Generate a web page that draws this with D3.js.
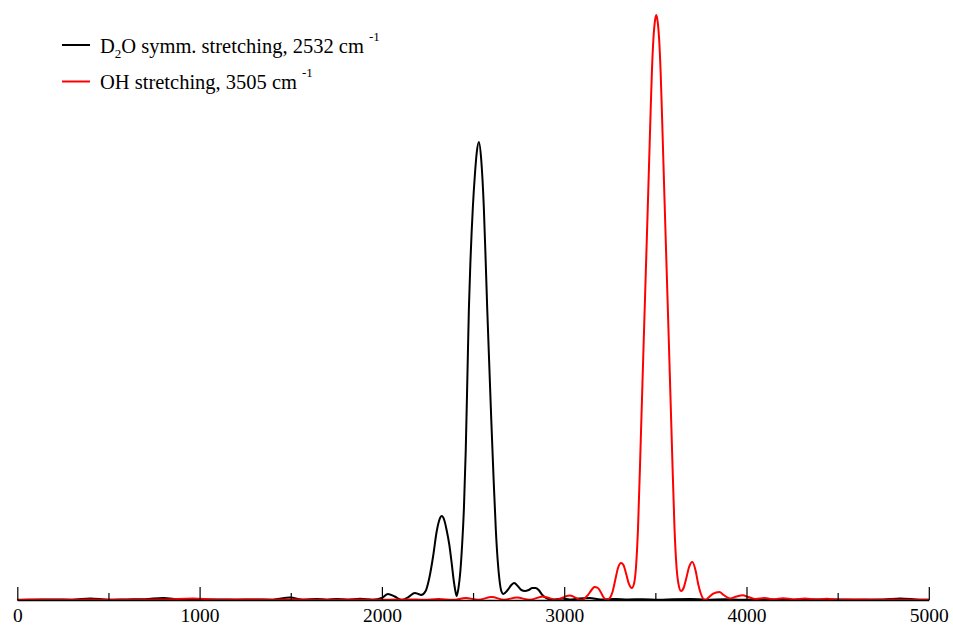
<!DOCTYPE html>
<html>
<head>
<meta charset="utf-8">
<script src="https://cdn.jsdelivr.net/npm/d3@7"></script>
</head>
<body style="margin:0;background:#fff">
<svg id="chart" width="953" height="625" style="display:block"></svg>
<script>
// ---- Data ----
const d2oWavenumbers = [0,100,200,300,400,500,600,700,800,900,1000,1100,1200,1300,1400,1496,1570,1643,1700,1753,1815,1880,1950,2000,2033,2070,2108,2145,2181,2200,2215,2240,2260,2282,2300,2315,2328,2342,2355,2370,2382,2395,2403,2410,2420,2430,2440,2450,2460,2470,2477,2485,2499,2510,2520,2532,2545,2559,2570,2578,2590,2600,2613,2625,2635,2645,2655,2666,2690,2710,2726,2745,2765,2785,2805,2825,2843,2860,2880,2900,2925,2950,2990,3030,3080,3140,3200,3280,3350,3430,3520,3600,3690,3780,3880,3980,4100,4250,4400,4600,4750,4843,4950,5000];
const d2oIntensity   = [0,0.05,0.1,0.05,0.26,0.05,0.1,0.14,0.34,0.05,0.05,0.1,0.05,0.1,0.05,0.43,0.05,0.17,0.05,0.17,0.05,0.2,0.05,0.34,1.03,0.6,0,0.51,1.2,1.03,0.85,1.54,3.76,7.69,11.62,13.68,14.36,13.68,11.97,9.4,6.5,3.08,1.54,0.68,2.05,4.79,9.4,15.73,25.64,39.66,49.57,57.26,67.18,72.65,76.41,78.29,75.21,67.18,57.26,49.57,39.32,30.77,20.51,11.97,6.84,3.42,1.54,1.03,1.71,2.56,2.91,2.39,1.71,1.54,1.71,2.05,2.05,1.71,0.85,0.34,0.09,0.09,0.26,0.09,0.26,0.34,0.09,0.17,0.09,0.14,0.05,0.14,0.17,0.05,0.14,0.05,0.1,0.05,0.1,0.05,0.09,0.26,0.05,0.03];

const ohWavenumbers = [0,100,200,400,600,800,963,1100,1250,1400,1550,1700,1850,2000,2150,2230,2310,2390,2460,2530,2602,2670,2740,2810,2884,2955,3030,3096,3130,3150,3166,3185,3200,3215,3233,3250,3265,3280,3295,3312,3325,3340,3355,3371,3385,3395,3405,3420,3435,3448,3460,3473,3481,3489,3497,3505,3513,3521,3529,3537,3550,3562,3575,3590,3605,3615,3625,3641,3655,3670,3685,3703,3720,3735,3750,3773,3795,3815,3851,3875,3910,3945,3980,4010,4050,4100,4150,4200,4260,4320,4380,4440,4500,4600,4700,4800,4900,5000];
const ohIntensity   = [0.03,0.09,0.03,0.07,0.05,0.09,0.26,0.05,0.1,0.05,0.09,0.03,0.09,0.03,0.1,0.03,0.17,0.03,0.34,0.05,0.51,0.05,0.43,0.05,0.6,0.05,0.77,0,0.85,1.71,2.22,2.05,1.37,0.51,0,0.34,1.37,3.42,5.47,6.32,5.98,4.44,2.74,2.05,3.08,6.15,12.31,27.35,43.08,56.41,68.72,82.39,90.26,95.73,98.8,100,98.8,95.73,90.26,82.39,68.72,56.41,43.08,27.35,12.31,6.15,3.08,1.54,2.05,3.76,5.64,6.5,5.13,2.74,1.03,0,0.51,1.03,1.37,0.85,0.26,0.6,0.8,0.51,0.17,0.34,0.09,0.31,0.09,0.26,0.09,0.2,0.05,0.1,0.03,0.09,0.03,0.03];

const majorTicks = [0,1000,2000,3000,4000,5000];
const minorTicks = [500,1500,2500,3500,4500];
const seriesNames = ["D2O symm. stretching, 2532 cm-1", "OH stretching, 3505 cm-1"];
const seriesColors = ["#000000", "#ff0000"];

// ---- Chart ----
const FONT = '"Liberation Serif", "Times New Roman", Times';
const svg = d3.select("#chart");
const x = d3.scaleLinear().domain([0, 5000]).range([17.3, 928.8]);
const y = d3.scaleLinear().domain([0, 100]).range([600, 15]);

const line = d3.line()
  .x(d => x(d[0]))
  .y(d => y(d[1]))
  .curve(d3.curveMonotoneX);

const d2o = d3.zip(d2oWavenumbers, d2oIntensity);
const oh = d3.zip(ohWavenumbers, ohIntensity);

svg.append("path").datum(d2o)
  .attr("d", line).attr("fill", "none")
  .attr("stroke", seriesColors[0]).attr("stroke-width", 2)
  .attr("stroke-linejoin", "round");
svg.append("path").datum(oh)
  .attr("d", line).attr("fill", "none")
  .attr("stroke", seriesColors[1]).attr("stroke-width", 2)
  .attr("stroke-linejoin", "round");

// axes
const axisMajor = d3.axisBottom(x)
  .tickValues(majorTicks)
  .tickFormat(d3.format("d"))
  .tickSizeInner(-13)
  .tickSizeOuter(0)
  .tickPadding(8);
const gx = svg.append("g").attr("transform", "translate(0,600)").call(axisMajor);
gx.attr("font-family", null).attr("font-size", null);
gx.select(".domain").attr("stroke", "#000").attr("stroke-width", 1.5);
gx.selectAll(".tick line").attr("stroke", "#000").attr("stroke-width", 1.2);
gx.selectAll(".tick text")
  .style("font-family", FONT)
  .style("font-size", "19.5px").attr("fill", "#000");

const axisMinor = d3.axisBottom(x)
  .tickValues(minorTicks)
  .tickFormat("")
  .tickSizeInner(-7)
  .tickSizeOuter(0);
const gm = svg.append("g").attr("transform", "translate(0,600)").call(axisMinor);
gm.select(".domain").remove();
gm.selectAll(".tick line").attr("stroke", "#000").attr("stroke-width", 1.2);

// legend
const legend = svg.append("g");
const legendY = [45, 81.5];
seriesNames.forEach((name, i) => {
  const g = legend.append("g");
  g.append("line")
    .attr("x1", 62).attr("x2", 90)
    .attr("y1", legendY[i]).attr("y2", legendY[i])
    .attr("stroke", seriesColors[i]).attr("stroke-width", 2);
  const t = g.append("text")
    .attr("x", 100).attr("y", legendY[i] + 7.5)
    .style("font-family", FONT)
    .style("font-size", "20.5px").attr("fill", "#000");
  const m = name.match(/^(.*) cm-1$/);
  let main = m[1] + " cm";
  if (main.startsWith("D2O")) {
    t.append("tspan").text("D");
    t.append("tspan").style("font-size", "13px").attr("dy", 5).text("2");
    t.append("tspan").attr("dy", -5).text(main.slice(2));
  } else {
    t.append("tspan").text(main);
  }
  t.append("tspan").style("font-size", "13px").attr("dx", 5).attr("dy", -12).text("-1");
});
</script>
</body>
</html>
